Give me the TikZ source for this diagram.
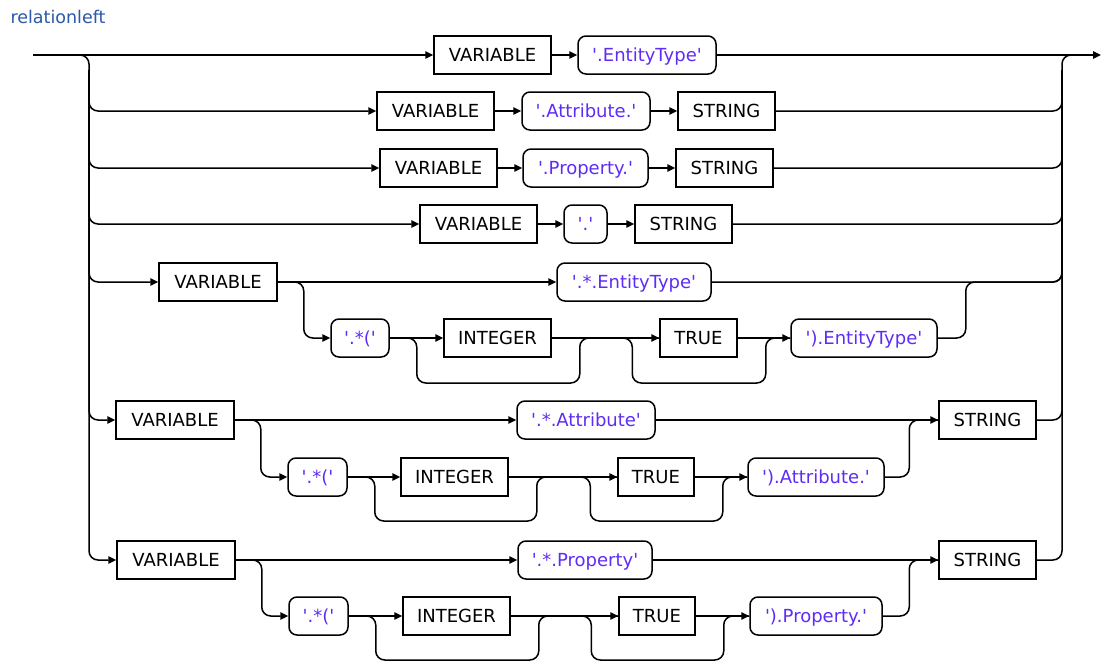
\documentclass[tikz,border=0pt]{standalone}
\usepackage{fontspec}
\setmainfont{DejaVu Sans}[Ligatures=TeXOff]
\usetikzlibrary{arrows.meta,calc}
\definecolor{litc}{HTML}{5F2CF5}
\definecolor{titc}{HTML}{2B58A8}
\begin{document}
\begin{tikzpicture}[x=1pt,y=-1pt,
  every node/.style={font=\fontsize{18}{20}\selectfont},
  term/.style={draw, line width=1.5pt, minimum height=38pt, inner sep=0pt, text height=13pt, text depth=0pt},
  lit/.style={term, rounded corners=8pt, text=litc},
  ln/.style={line width=1.5pt},
  arr/.style={ln, -{Triangle[length=8pt,width=7.5pt]}},
  rc/.style={ln, rounded corners=9pt}]
\fill[white] (0,0) rectangle (1104,662);
\useasboundingbox (0,0) rectangle (1104,662);

\node[anchor=west, text=titc, font=\fontsize{17.5}{20}\selectfont] (title) at (7,17) {relationleft};

\coordinate (Start) at (33,55);
\coordinate (End) at (1101,55);
\coordinate (Lx) at (89,70);
\coordinate (Rr) at (1062,70);
\coordinate (Rtop) at (1062,55);
\coordinate (Rend) at (1085,55);

% row 1
\node[term, minimum width=117pt] (v1) at (492.5,55) {VARIABLE};
\node[lit, minimum width=138pt] (e1) at (647,55) {'.EntityType'};
% row 2
\node[term, minimum width=117pt] (v2) at (435.5,111) {VARIABLE};
\node[lit, minimum width=128pt] (a2) at (586,111) {'.Attribute.'};
\node[term, minimum width=97pt] (s2) at (726.5,111) {STRING};
% row 3
\node[term, minimum width=117pt] (v3) at (438.5,168) {VARIABLE};
\node[lit, minimum width=125pt] (p3) at (585.5,168) {'.Property.'};
\node[term, minimum width=97pt] (s3) at (724.5,168) {STRING};
% row 4
\node[term, minimum width=117pt] (v4) at (478.5,224) {VARIABLE};
\node[lit, minimum width=43pt] (d4) at (585.5,224) {'.'};
\node[term, minimum width=97pt] (s4) at (683.5,224) {STRING};
% row 5
\node[term, minimum width=118pt] (v5) at (218,282) {VARIABLE};
\node[lit, minimum width=154pt] (e5) at (634,282) {'.*.EntityType'};
\node[lit, minimum width=58pt] (o5) at (360,338) {'.*('};
\node[term, minimum width=107pt] (i5) at (497.5,338) {INTEGER};
\node[term, minimum width=77pt] (t5) at (698.5,338) {TRUE};
\node[lit, minimum width=146pt] (r5) at (864,338) {').EntityType'};
% row 6
\node[term, minimum width=118pt] (v6) at (175,420) {VARIABLE};
\node[lit, minimum width=138pt] (e6) at (586,420) {'.*.Attribute'};
\node[term, minimum width=97pt] (s6) at (987.5,420) {STRING};
\node[lit, minimum width=59pt] (o6) at (317.5,477) {'.*('};
\node[term, minimum width=107pt] (i6) at (454.5,477) {INTEGER};
\node[term, minimum width=76pt] (t6) at (656,477) {TRUE};
\node[lit, minimum width=136pt] (r6) at (816,477) {').Attribute.'};
% row 7
\node[term, minimum width=118pt] (v7) at (176,560) {VARIABLE};
\node[lit, minimum width=134pt] (e7) at (585,560) {'.*.Property'};
\node[term, minimum width=97pt] (s7) at (987.5,560) {STRING};
\node[lit, minimum width=59pt] (o7) at (318.5,616) {'.*('};
\node[term, minimum width=107pt] (i7) at (456.5,616) {INTEGER};
\node[term, minimum width=76pt] (t7) at (657,616) {TRUE};
\node[lit, minimum width=132pt] (r7) at (816,616) {').Property.'};

% rails
\draw[arr] (Start) -- (v1.west);
\draw[arr, rc] (Start) -| (Lx |- v7) -- (v7.west);
\draw[rc] (s7.east) -| (Rtop) -- (Rend);
\draw[arr] (e1.east) -- (End);

% row 1
\draw[arr] (v1) -- (e1);
% row 2
\draw[arr, rc] (Lx) |- (v2.west);
\draw[arr] (v2) -- (a2);
\draw[arr] (a2) -- (s2);
\draw[rc] (s2.east) -| (Rr);
% row 3
\draw[arr, rc] (Lx) |- (v3.west);
\draw[arr] (v3) -- (p3);
\draw[arr] (p3) -- (s3);
\draw[rc] (s3.east) -| (Rr);
% row 4
\draw[arr, rc] (Lx) |- (v4.west);
\draw[arr] (v4) -- (d4);
\draw[arr] (d4) -- (s4);
\draw[rc] (s4.east) -| (Rr);

% row 5
\draw[arr, rc] (Lx) |- (v5.west);
\draw[arr] (v5) -- (e5);
\draw[rc] (e5.east) -| (Rr);
\draw[arr, rc] (v5.east) -- ++(26,0) |- (o5.west);
\draw[arr] (o5) -- (i5);
\draw[rc] (o5.east) -| ($(o5.east)+(27,45)$) -| ($(i5.east)+(28,0)$) -- (t5.west);
\draw[arr] (i5) -- (t5);
\draw[rc] (i5.east) -| ($(t5.west)+(-27,45)$) -| ($(t5.east)+(28,0)$) -- (r5.west);
\draw[arr] (t5) -- (r5);
\draw[rc] (r5.east) -| ($(r5.east)+(28,-56)$) -| (Rr);

% row 6
\draw[arr, rc] (Lx) |- (v6.west);
\draw[arr] (v6) -- (e6);
\draw[arr] (e6) -- (s6);
\draw[rc] (s6.east) -| (Rr);
\draw[arr, rc] (v6.east) -- ++(26,0) |- (o6.west);
\draw[arr] (o6) -- (i6);
\draw[rc] (o6.east) -| ($(o6.east)+(27,44)$) -| ($(i6.east)+(28,0)$) -- (t6.west);
\draw[arr] (i6) -- (t6);
\draw[rc] (i6.east) -| ($(t6.west)+(-27,44)$) -| ($(t6.east)+(28,0)$) -- (r6.west);
\draw[arr] (t6) -- (r6);
\draw[rc] (r6.east) -| ($(s6.west)+(-29,0)$) -- (s6.west);

% row 7
\draw[arr] (v7) -- (e7);
\draw[arr] (e7) -- (s7);
\draw[arr, rc] (v7.east) -- ++(26,0) |- (o7.west);
\draw[arr] (o7) -- (i7);
\draw[rc] (o7.east) -| ($(o7.east)+(27,44)$) -| ($(i7.east)+(28,0)$) -- (t7.west);
\draw[arr] (i7) -- (t7);
\draw[rc] (i7.east) -| ($(t7.west)+(-27,44)$) -| ($(t7.east)+(28,0)$) -- (r7.west);
\draw[arr] (t7) -- (r7);
\draw[rc] (r7.east) -| ($(s7.west)+(-29,0)$) -- (s7.west);
\end{tikzpicture}
\end{document}
